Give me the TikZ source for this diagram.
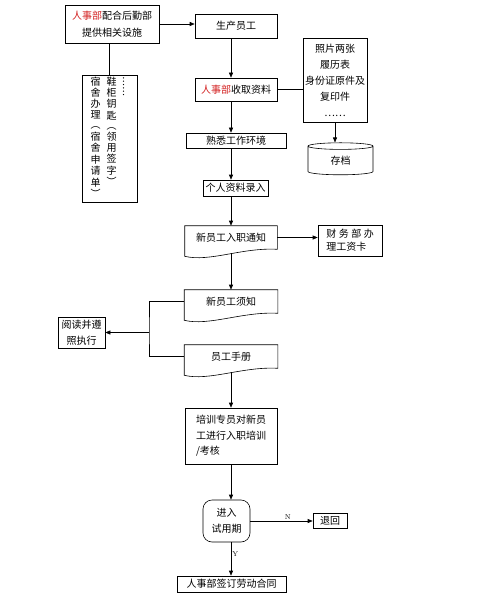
\documentclass[tikz,border=0pt]{standalone}
\usepackage{fontspec}
\newfontfamily\cjk{Noto Sans CJK SC}
\usepackage{xcolor}
\usetikzlibrary{arrows.meta,shapes.geometric,positioning}
\definecolor{hrred}{RGB}{210,30,30}
\newcommand{\hrdept}{\textcolor{hrred}{人事部}}
\newcommand{\vcol}[1]{\begin{tabular}[t]{@{}c@{}}#1\end{tabular}}
% document shape: box with a wavy bottom edge
\newcommand{\wavebox}[1]{\draw (#1.north west) -- (#1.north east) -- (#1.south east)
    .. controls +(-35pt,2pt) and +(25pt,-6pt) .. ([yshift=-7pt]#1.south west) -- cycle;}

\begin{document}
\begin{tikzpicture}[x=1pt, y=-1pt, >={Stealth[length=5pt,width=4pt,inset=0pt]}, line width=0.6pt,
    every node/.style={font=\cjk\fontsize{10}{16}\selectfont, inner sep=1pt},
    box/.style={draw},
    docnode/.style={},
    lbl/.style={font=\rmfamily\fontsize{7}{8}\selectfont, inner sep=1pt}]

    \useasboundingbox (0,0) rectangle (499,596);
    \coordinate (spine) at (231,0);

    % upper part
    \node[box, minimum width=94pt, minimum height=38pt, align=center] (hq) at (112,24) {\hrdept 配合后勤部\\[1pt]提供相关设施};
    \node[box, minimum width=82pt, minimum height=24pt] (staff) at (236,26) {生产员工};
    \node[box, minimum width=82pt, minimum height=23pt] (collect) at (236,89.5) {\hrdept 收取资料};
    \node[box, minimum width=55pt, minimum height=127pt, font=\cjk\fontsize{10}{10}\selectfont] (dorm) at (109.5,138.5) {%
        \begin{tabular}{@{}c@{\hspace{6pt}}c@{\hspace{2pt}}c@{}}
        \vcol{宿\\舍\\办\\理\\︵\\宿\\舍\\申\\请\\单\\︶} &
        \vcol{鞋\\柜\\钥\\匙\\︵\\领\\用\\签\\字\\︶} &
        \vcol{︙\\︙}
        \end{tabular}};
    \node[box, minimum width=64pt, minimum height=84pt, align=center] (docs) at (335,80) {照片两张\\履历表\\身份证原件及\\复印件\\……};
    \node[draw, cylinder, shape border rotate=90, aspect=0.3, minimum width=65pt, minimum height=32pt] (archive) at (340.5,161) {存档};
    \node[box, minimum width=100pt, minimum height=15pt] (env) at (236,140.5) {熟悉工作环境};
    \node[box, minimum width=65pt, minimum height=16pt] (entry) at (235.5,188) {个人资料录入};

    % middle part
    \node[docnode, minimum width=92pt, minimum height=23pt] (notice) at (231,237.5) {新员工入职通知};
    \node[box, minimum width=64pt, minimum height=31pt, align=left, font=\cjk\fontsize{10}{13}\selectfont] (payroll) at (350,240.5) {财\hspace{2.5pt}务\hspace{2.5pt}部\hspace{2.5pt}办\\理工资卡};
    \node[docnode, minimum width=93pt, minimum height=23pt] (rules) at (231,301.5) {新员工须知};
    \node[docnode, minimum width=93pt, minimum height=23pt] (handbook) at (231,356.5) {员工手册};
    \node[box, minimum width=47pt, minimum height=31pt, align=center] (obey) at (81.5,332.5) {阅读并遵\\照执行};
    \coordinate (jn) at (149,332.5);

    % lower part
    \node[box, minimum width=92pt, minimum height=56pt, align=left, font=\cjk\fontsize{10}{15.5}\selectfont] (train) at (231,436) {培训专员对新员\\工进行入职培训\\/考核};
    \node[box, rounded corners=9pt, minimum width=47pt, minimum height=42pt, align=center] (trial) at (226.5,521) {进入\\试用期};
    \node[box, minimum width=34pt, minimum height=15pt] (back) at (330,521) {退回};
    \node[box, minimum width=109pt, minimum height=16pt] (contract) at (231.5,584) {人事部签订劳动合同};

    \wavebox{notice}
    \wavebox{rules}
    \wavebox{handbook}

    \draw[->] (hq.east) -- (hq.east -| staff.west);
    \draw (dorm.north |- hq.south) -- (dorm.north);
    \draw[->] (staff.south -| spine) -- (collect.north -| spine);
    \draw (collect.east) -- (collect.east -| docs.west);
    \draw[->] (docs.south) -- (docs.south |- archive.north);
    \draw[->] (collect.south -| spine) -- (env.north -| spine);
    \draw[->] (env.south -| spine) -- (entry.north -| spine);
    \draw[->] (entry.south -| spine) -- (notice.north -| spine);
    \draw[->] (notice.east) -- (notice.east -| payroll.west);
    \draw[->] ([yshift=-4pt]notice.south) -- (rules.north);
    \draw (rules.west) -| (jn) |- (handbook.west);
    \draw[->] (jn) -- (obey.east);
    \draw[->] ([yshift=-4pt]handbook.south) -- (train.north);
    \draw[->] (train.south -| spine) -- (trial.north -| spine);
    \draw[->] (trial.east) -- node[lbl, above, pos=0.6] {N} (back.west);
    \draw[->] (trial.south -| spine) -- node[lbl, right, pos=0.35] {Y} (contract.north -| spine);

\end{tikzpicture}
\end{document}
